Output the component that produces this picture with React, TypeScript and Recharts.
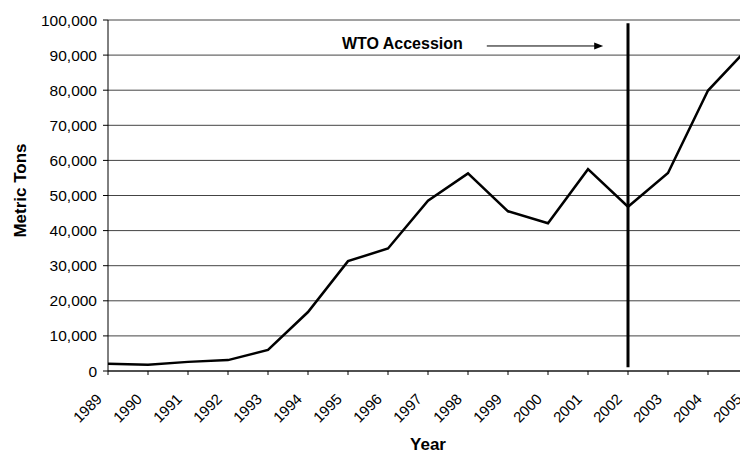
import React from "react";
import { LineChart, Line, XAxis, YAxis, CartesianGrid, ReferenceLine } from "recharts";

const years = [1989, 1990, 1991, 1992, 1993, 1994, 1995, 1996, 1997, 1998, 1999, 2000, 2001, 2002, 2003, 2004, 2005];
const tons = [2100, 1800, 2600, 3100, 6000, 16800, 31300, 34900, 48500, 56300, 45500, 42100, 57500, 46800, 56400, 79900, 92000];
const yTicks = [0, 10000, 20000, 30000, 40000, 50000, 60000, 70000, 80000, 90000, 100000];

const wtoYear = 2002;
const wtoLabel = "WTO Accession";

const data = years.map((year, i) => ({ year, tons: tons[i] }));

const FONT = "'Liberation Sans', Arial, sans-serif";

const XTick = (props: any) => {
  const { x, y, payload } = props;
  return (
    <text
      x={x - 5}
      y={y + 23}
      textAnchor="end"
      fontFamily={FONT}
      fontSize={15}
      fill="#000"
      transform={`rotate(-45, ${x - 5}, ${y + 23})`}
    >
      {payload.value}
    </text>
  );
};

const ArrowShape = (props: any) => {
  const { x1, y1, x2, y2 } = props;
  return (
    <g>
      <text x={x1 - 24} y={y1 + 3} textAnchor="end" fontFamily={FONT} fontSize={16} fontWeight="bold" fill="#000">
        {wtoLabel}
      </text>
      <line x1={x1} y1={y1} x2={x2 - 8} y2={y2} stroke="#000" strokeWidth={1} />
      <polygon points={`${x2},${y2} ${x2 - 9},${y2 - 3.5} ${x2 - 9},${y2 + 3.5}`} fill="#000" />
    </g>
  );
};

const YLabel = (props: any) => {
  const vb = props.viewBox || { x: 0, y: 20, width: 108, height: 351 };
  const cx = 26;
  const cy = vb.y + vb.height / 2 - 5;
  return (
    <text x={cx} y={cy} textAnchor="middle" fontFamily={FONT} fontSize={17} fontWeight="bold" fill="#000" transform={`rotate(-90, ${cx}, ${cy})`}>
      Metric Tons
    </text>
  );
};

export default function App() {
  return (
    <div style={{ position: "absolute", left: 0, top: 0, width: 740, height: 453, overflow: "hidden", background: "#fff" }}>
      <LineChart width={760} height={453} data={data} margin={{ top: 20, right: 12, bottom: 0, left: 0 }}>
        <CartesianGrid vertical={false} stroke="#444" strokeWidth={1} />
        <XAxis
          dataKey="year"
          type="number"
          domain={[1989, 2005]}
          ticks={years}
          interval={0}
          height={82}
          tickSize={4}
          tick={<XTick />}
          axisLine={{ stroke: "#000" }}
          tickLine={{ stroke: "#000" }}
          label={{ value: "Year", position: "insideBottom", offset: 3, fontFamily: FONT, fontSize: 17, fontWeight: "bold", fill: "#000" }}
        />
        <YAxis
          domain={[0, 100000]}
          ticks={yTicks}
          width={108}
          tickSize={5}
          tickMargin={6}
          tickFormatter={(v: number) => v.toLocaleString("en-US")}
          tick={{ fontFamily: FONT, fontSize: 15.5, fill: "#000" }}
          axisLine={{ stroke: "#000" }}
          tickLine={{ stroke: "#000" }}
          label={<YLabel />}
        />
        <ReferenceLine
          segment={[{ x: wtoYear, y: 1100 }, { x: wtoYear, y: 99100 }]}
          stroke="#000"
          strokeWidth={3}
        />
        <ReferenceLine
          segment={[{ x: 1998.47, y: 92600 }, { x: 2001.38, y: 92600 }]}
          shape={<ArrowShape />}
        />
        <Line type="linear" dataKey="tons" stroke="#000" strokeWidth={2.5} dot={false} isAnimationActive={false} />
      </LineChart>
    </div>
  );
}
